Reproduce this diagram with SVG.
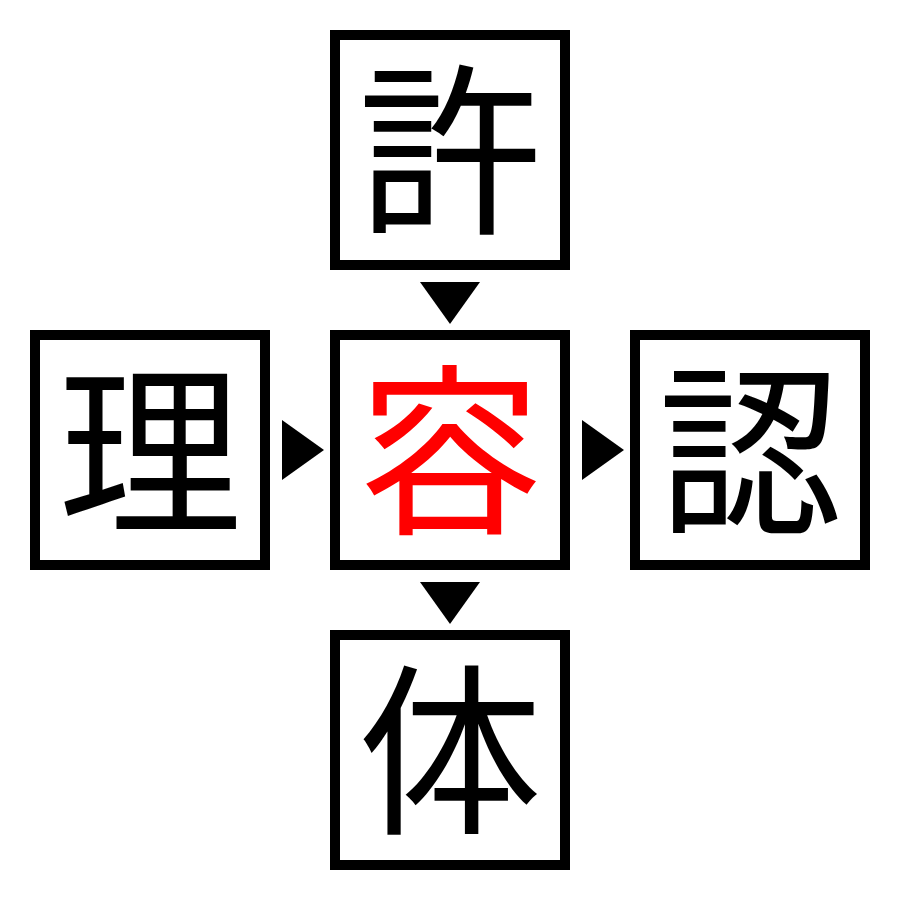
<svg xmlns="http://www.w3.org/2000/svg" width="900" height="900" viewBox="0 0 900 900">
<style>
.box{fill:#fff;stroke:#000;stroke-width:10}
.ch{font-family:"Noto Sans CJK JP","Noto Sans CJK SC",sans-serif;font-size:184px;text-anchor:middle;fill:#000}
.hl{fill:#f00}
.arr{fill:#000}
</style>
<rect width="900" height="900" fill="#fff"/>
<g id="node-top"><rect class="box" x="335" y="35" width="230" height="230"/><text class="ch" x="450" y="220">許</text></g>
<g id="node-left"><rect class="box" x="35" y="335" width="230" height="230"/><text class="ch" x="150" y="520">理</text></g>
<g id="node-center"><rect class="box" x="335" y="335" width="230" height="230"/><text class="ch hl" x="450" y="520">容</text></g>
<g id="node-right"><rect class="box" x="635" y="335" width="230" height="230"/><text class="ch" x="750" y="520">認</text></g>
<g id="node-bottom"><rect class="box" x="335" y="635" width="230" height="230"/><text class="ch" x="450" y="820">体</text></g>
<g id="connectors">
<polygon class="arr" points="420,282 480,282 450,324"/>
<polygon class="arr" points="282,420 282,480 324,450"/>
<polygon class="arr" points="582,420 582,480 624,450"/>
<polygon class="arr" points="420,582 480,582 450,624"/>
</g>
</svg>
